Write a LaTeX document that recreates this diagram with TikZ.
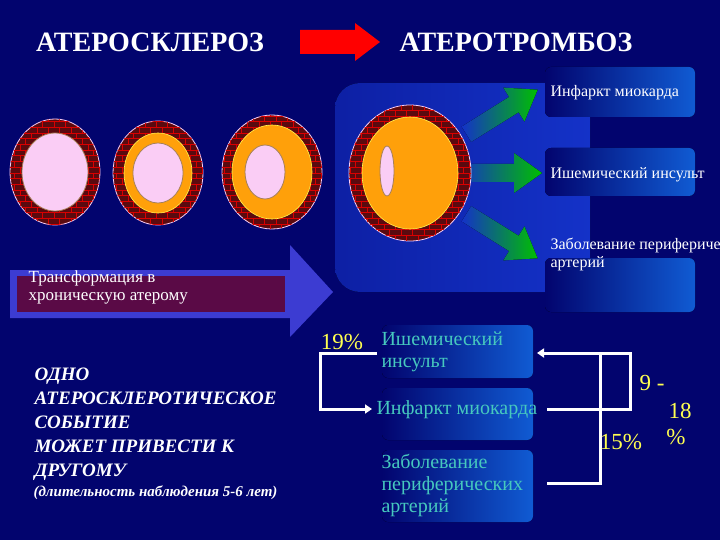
\documentclass[tikz,border=0pt]{standalone}
\usepackage{fontspec}
\setmainfont{Liberation Serif}
\usetikzlibrary{patterns,arrows.meta}
\definecolor{bg}{RGB}{2,4,110}
\definecolor{panel}{RGB}{20,50,200}
\definecolor{brick}{RGB}{90,10,15}
\definecolor{plaque}{RGB}{255,160,10}
\definecolor{lumen}{RGB}{250,205,245}
\definecolor{teal}{RGB}{70,200,190}
\definecolor{yel}{RGB}{255,255,80}
\begin{document}
\begin{tikzpicture}[x=1pt,y=-1pt,
  wall/.style={draw=lumen,line width=0.8pt,fill=brick,postaction={pattern=bricks,pattern color=red!85!black}},
  plq/.style={draw=yellow!70!white,line width=0.6pt,fill=plaque},
  lum/.style={draw=brown!60!gray,line width=0.8pt,fill=lumen},
  rbox/.style={rounded corners=6pt,left color=bg,right color=panel!80!cyan,draw=none},
  wtext/.style={text=white,font=\rmfamily\fontsize{16}{18}\selectfont,align=left,anchor=west},
  ttext/.style={text=teal,font=\rmfamily\fontsize{20}{22}\selectfont,align=left,anchor=west},
  ytext/.style={text=yel,font=\rmfamily\fontsize{23}{25}\selectfont},
  gshade/.style={left color=panel,right color=green!75!black},
  con/.style={draw=white,line width=3pt}]
\fill[bg] (0,0) rectangle (720,540);
\useasboundingbox (0,0) rectangle (720,540);
% titles
\node[text=white,font=\bfseries\fontsize{28}{30}\selectfont] (t1) at (150,42) {АТЕРОСКЛЕРОЗ};
\node[text=white,font=\bfseries\fontsize{28}{30}\selectfont] (t2) at (516,42) {АТЕРОТРОМБОЗ};
\fill[red] (300,30) -- (355,30) -- (355,23) -- (380,42) -- (355,61) -- (355,54) -- (300,54) -- cycle;
% panel
\fill[rounded corners=25pt,left color=panel!60!bg,right color=panel] (335,83) rectangle (590,292);
% right boxes
\fill[rbox] (545,67) rectangle (695,117);
\fill[rbox] (545,148) rectangle (695,196);
\fill[rbox] (545,258) rectangle (695,312);
\node[wtext] (b1) at (547,93) {Инфаркт миокарда};
\node[wtext] (b2) at (547,175) {Ишемический инсульт};
\node[wtext] (b3) at (547,254) {Заболевание периферических\\артерий};
% green arrows
\foreach \cx/\cy/\ang in {502/112/32, 500/173/0, 502/236/-32}{
  \begin{scope}[shift={(\cx,\cy)},rotate=\ang]
    \fill[gshade] (-42,-9) -- (14,-9) -- (14,-20) -- (42,0) -- (14,20) -- (14,9) -- (-42,9) -- cycle;
  \end{scope}}
% circles
\fill[wall] (55,172) ellipse (45 and 53);
\fill[lum] (55,172) ellipse (33 and 39);
\fill[wall] (158,173) ellipse (45 and 52);
\fill[plq] (158,173) ellipse (34 and 40);
\fill[lum] (158,173) ellipse (25 and 30);
\fill[wall] (272,172) ellipse (50 and 57);
\fill[plq] (272,172) ellipse (40 and 47);
\fill[lum] (265,172) ellipse (20 and 27);
\fill[wall] (410,173) ellipse (61 and 68);
\fill[plq] (410,173) ellipse (48 and 56);
\fill[lum] (387,171) ellipse (7 and 25);
% big arrow
\fill[fill={rgb,255:red,60;green,60;blue,210}] (10,270) -- (290,270) -- (290,245) -- (333,292) -- (290,337) -- (290,318) -- (10,318) -- cycle;
\fill[fill={rgb,255:red,90;green,10;blue,70}] (17,276) rectangle (285,312);
\node[wtext,font=\rmfamily\fontsize{17}{18}\selectfont] (tr) at (25,287) {Трансформация в\\хроническую атерому};
% left text
\node[text=white,font=\bfseries\itshape\fontsize{19}{24}\selectfont,align=left,anchor=north west] (lt) at (31,364)
 {ОДНО\\АТЕРОСКЛЕРОТИЧЕСКОЕ\\СОБЫТИЕ\\МОЖЕТ ПРИВЕСТИ К\\ДРУГОМУ};
\node[text=white,font=\bfseries\itshape\fontsize{15}{17}\selectfont,anchor=west] (lt2) at (30,493) {(длительность наблюдения 5-6 лет)};
% bottom boxes
\fill[rbox] (382,325) rectangle (533,378);
\fill[rbox] (382,388) rectangle (533,440);
\fill[rbox] (382,450) rectangle (533,522);
\node[ttext] (c1) at (378,352) {Ишемический\\инсульт};
\node[ttext] (c2) at (373,410) {Инфаркт миокарда};
\node[ttext] (c3) at (378,485) {Заболевание\\периферических\\артерий};
% connectors
\coordinate (a1) at (377,353);
\coordinate (a2) at (320,353);
\coordinate (a3) at (320,409);
\coordinate (a4) at (372,409);
\draw[con,-{Triangle[length=7pt,width=9pt]}] (a1) -- (a2) -- (a3) -- (a4);
\coordinate (r1) at (630,353);
\coordinate (r2) at (537,353);
\coordinate (r3) at (630,409);
\coordinate (r4) at (547,409);
\draw[con,-{Triangle[length=7pt,width=9pt]}] (r4) -- (r3) -- (r1) -- (r2);
\coordinate (s1) at (600,353);
\coordinate (s2) at (600,483);
\coordinate (s3) at (547,483);
\draw[con] (s1) -- (s2) -- (s3);
% percentages
\node[ytext] (p1) at (342,342) {19\%};
\node[ytext] (p2) at (652,383) {9 -};
\node[ytext] (p3) at (680,411) {18};
\node[ytext] (p4) at (676,437) {\%};
\node[ytext] (p5) at (621,442) {15\%};
\end{tikzpicture}
\end{document}
